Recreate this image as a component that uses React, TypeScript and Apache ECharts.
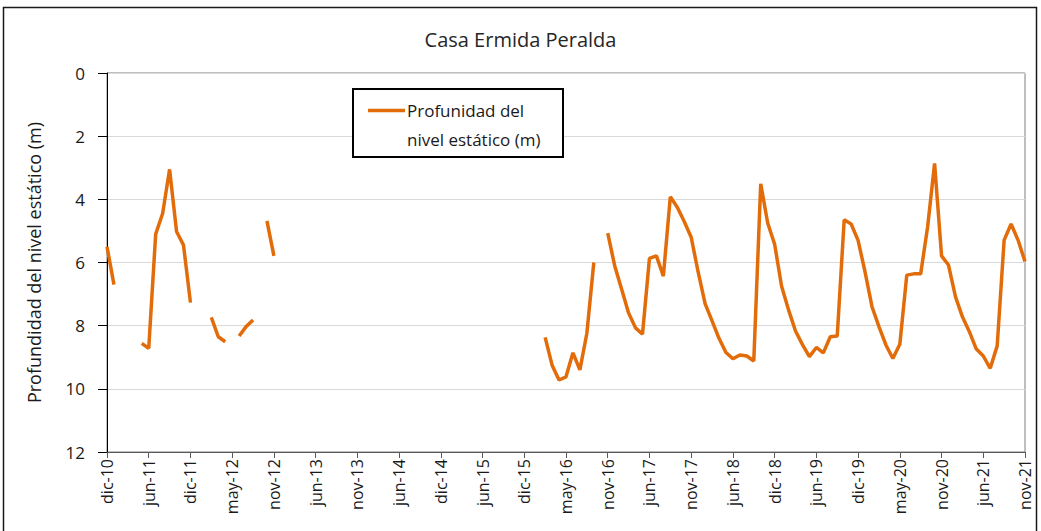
import React, { useEffect, useRef } from "react";
import * as echarts from "echarts";

const TITLE = "Casa Ermida Peralda";
const SERIES_NAME = "Profunidad del nivel estático (m)";
const Y_NAME = "Profundidad del nivel estático (m)";

// tick labels, one every 6 samples
const tickLabels = [
  "dic-10", "jun-11", "dic-11", "may-12", "nov-12", "jun-13", "nov-13", "jun-14",
  "dic-14", "jun-15", "dic-15", "may-16", "nov-16", "jun-17", "nov-17", "jun-18",
  "dic-18", "jun-19", "dic-19", "may-20", "nov-20", "jun-21", "nov-21",
];

// depth values (m), one per sample, null = no measurement
const seg2010_2012 = [
  5.5, 6.7, null, null, null, 8.56, 8.72, 5.1, 4.45, 3.05, 5.02, 5.45, 7.27,
  null, null, 7.74, 8.35, 8.51, null, 8.33, 8.03, 7.82, null, 4.68, 5.79,
];
const gap2013_2015 = new Array(38).fill(null);
const seg2016_2018 = [
  8.37, 9.25, 9.72, 9.62, 8.86, 9.4, 8.24, 6.0, null, 5.07, 6.1, 6.85, 7.6,
  8.07, 8.27, 5.87, 5.79, 6.43, 3.92, 4.25, 4.7, 5.2, 6.3, 7.3, 7.85, 8.4,
  8.85, 9.05, 8.93, 8.96, 9.12,
];
const seg2018_2021 = [
  3.51, 4.75, 5.42, 6.75, 7.5, 8.17, 8.6, 8.98, 8.69, 8.86, 8.35, 8.33, 4.65,
  4.78, 5.3, 6.3, 7.4, 8.03, 8.61, 9.04, 8.59, 6.4, 6.36, 6.36, 4.87, 2.86,
  5.79, 6.08, 7.08, 7.72, 8.19, 8.74, 8.96, 9.35, 8.64, 5.29, 4.78, 5.29, 5.97,
];

const depth = [...seg2010_2012, ...gap2013_2015, ...seg2016_2018, ...seg2018_2021];
const categories = depth.map((_, i) => (i % 6 === 0 ? tickLabels[i / 6] : ""));

const FONT = "'Open Sans', 'Noto Sans', sans-serif";
const ORANGE = "#E36C0A";

export default function App() {
  const ref = useRef<HTMLDivElement>(null);
  useEffect(() => {
    document.body.style.margin = "0";
    if (!ref.current) return;
    const chart = echarts.init(ref.current, undefined, { renderer: "svg" });
    chart.setOption({
      animation: false,
      backgroundColor: "#ffffff",
      title: {
        text: TITLE,
        left: "center",
        top: 24,
        textStyle: { fontFamily: FONT, fontSize: 20, fontWeight: "normal", color: "#262626" },
      },
      grid: {
        left: 107,
        right: 16,
        top: 73,
        bottom: 79,
        show: true,
        borderColor: "#7f7f7f",
        borderWidth: 1,
        backgroundColor: "transparent",
      },
      xAxis: {
        type: "category",
        data: categories,
        boundaryGap: false,
        position: "bottom",
        axisLine: { onZero: false, lineStyle: { color: "#595959", width: 1 } },
        axisTick: { show: true, interval: 5, length: 6, lineStyle: { color: "#595959" } },
        axisLabel: {
          interval: 5,
          rotate: 90,
          margin: 7,
          fontFamily: FONT,
          fontSize: 16,
          color: "#1a1a1a",
        },
        splitLine: { show: false },
      },
      yAxis: {
        type: "value",
        inverse: true,
        min: 0,
        max: 12,
        interval: 2,
        name: Y_NAME,
        nameLocation: "middle",
        nameRotate: 90,
        nameGap: 64,
        nameTextStyle: { fontFamily: FONT, fontSize: 18, color: "#1a1a1a" },
        axisLine: { show: true, lineStyle: { color: "#000000", width: 1 } },
        axisTick: { show: true, length: 9, lineStyle: { color: "#000000" } },
        axisLabel: { margin: 22, fontFamily: FONT, fontSize: 17, color: "#1a1a1a" },
        splitLine: { show: true, lineStyle: { color: "#d9d9d9", width: 1 } },
      },
      series: [
        {
          name: SERIES_NAME,
          type: "line",
          data: depth,
          connectNulls: false,
          symbol: "none",
          showSymbol: false,
          lineStyle: { color: ORANGE, width: 3.5 },
          itemStyle: { color: ORANGE },
        },
      ],
      graphic: [
        {
          type: "rect",
          shape: { x: 3.5, y: 7.5, width: 1033, height: 540 },
          style: { fill: "none", stroke: "#1a1a1a", lineWidth: 1.5 },
          silent: true,
        },
        {
          type: "rect",
          shape: { x: 353, y: 89, width: 210, height: 68 },
          style: { fill: "#ffffff", stroke: "#000000", lineWidth: 2 },
          z: 10,
        },
        {
          type: "line",
          shape: { x1: 368, y1: 110.5, x2: 405, y2: 110.5 },
          style: { stroke: ORANGE, lineWidth: 3.5 },
          z: 11,
        },
        {
          type: "text",
          x: 407,
          y: 96,
          style: {
            text: "Profunidad del\nnivel estático (m)",
            fontFamily: FONT,
            fontSize: 17,
            lineHeight: 29,
            fill: "#1a1a1a",
            verticalAlign: "top",
          },
          z: 11,
        },
      ],
    });
    return () => chart.dispose();
  }, []);
  return <div ref={ref} style={{ width: 1041, height: 531 }} />;
}
